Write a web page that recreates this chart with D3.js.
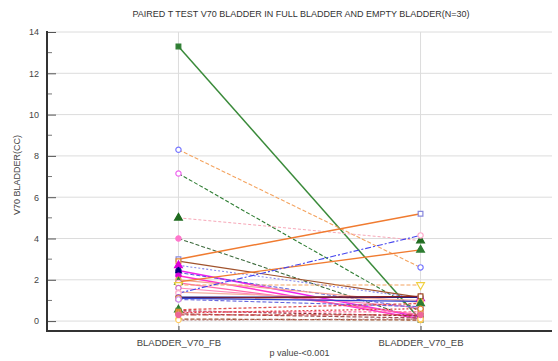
<!DOCTYPE html>
<html><head><meta charset="utf-8">
<script src="https://cdn.jsdelivr.net/npm/d3@7"></script>
<style>body{margin:0;background:#fff}svg{display:block}text{font-family:"Liberation Sans",Arial,sans-serif;fill:#444}</style>
</head><body>
<script>
const title = "PAIRED T TEST V70 BLADDER IN FULL BLADDER AND EMPTY BLADDER(N=30)";
const categories = ["BLADDER_V70_FB", "BLADDER_V70_EB"];
const yTicks = [0, 2, 4, 6, 8, 10, 12, 14];
const fbValues = [13.3, 8.3, 7.15, 5.0, 4.0, 3.0, 2.9, 2.7, 2.45, 2.35, 2.2, 2.0, 1.9, 1.85, 1.75, 1.6, 1.4, 1.35, 1.15, 1.1, 1.1, 1.05, 0.55, 0.5, 0.45, 0.4, 0.35, 0.1, 0.05, 0.3];
const ebValues = [0.05, 2.6, 0.45, 3.9, 0.05, 5.2, 1.15, 1.1, 0.2, 0.6, 0.1, 0.9, 3.45, 0.3, 1.75, 0.65, 1.0, 4.15, 1.15, 1.2, 0.95, 0.7, 0.85, 0.25, 0.45, 0.6, 0.15, 0.05, 0.1, 0.3];
const xLabel = "p value-<0.001";
const yLabel = "V70 BLADDER(CC)";

// styles: [line color, dash, width, marker, marker color, filled]
const styles = [
  ["#3a8a3a","",1.5,"square","#2e7d32",true],
  ["#f4a460","4,2",1.1,"circle","#7777ff",false],
  ["#2e7d32","4,2",1.1,"circle","#ee66ee",false],
  ["#f7a8b8","3,2",1.0,"triangle","#1f6b1f",true],
  ["#3d6b3d","4,2",1.1,"circle","#ff77cc",true],
  ["#f07b30","",1.5,"square","#8888dd",false],
  ["#a0522d","",1.2,"square","#e08a30",false],
  ["#8888ee","2,2",1.1,"triangle","#dd00dd",true],
  ["#ee22ee","",1.5,"circle","#1a1a8c",true],
  ["#5555dd","4,2",1.0,"diamond","#00007a",true],
  ["#ff33cc","",1.5,"circle","#dd00dd",true],
  ["#f4a090","",1.2,"circle","#f0a040",false],
  ["#f07b30","",1.4,"triangle","#2e7d32",true],
  ["#ff66aa","",1.2,"circle","#ffaacc",false],
  ["#f4a460","4,2",1.1,"tridown","#f0d040",false],
  ["#ff88bb","",1.1,"circle","#cc66cc",false],
  ["#f4b0a0","",1.2,"circle","#ffbbcc",false],
  ["#4444ee","6,2,2,2",1.1,"circle","#ffaacc",false],
  ["#22228c","",1.5,"circle","#9955cc",false],
  ["#8b2020","",1.3,"square","#a0522d",false],
  ["#3344cc","",1.3,"circle","#f0a040",false],
  ["#6666dd","4,2",1.1,"circle","#cc88ee",false],
  ["#e05050","3,2",1.3,"triangle","#2e7d32",true],
  ["#8b3030","3,2",1.3,"square","#3a8a3a",false],
  ["#ff6699","3,2",1.2,"square","#e08a30",false],
  ["#dd4444","2,2",1.3,"circle","#e08a30",false],
  ["#a05050","4,2",1.2,"circle","#d09050",false],
  ["#a0522d","4,2",1.3,"circle","#f0d040",false],
  ["#b07070","2,2",1.2,"circle","#ffcc66",false],
  ["#cc4444","6,2,2,2",1.2,"circle","#ee6699",true]
];

const W = 558, H = 361;
const m = {l:47, r:6, t:32, b:30};
const svg = d3.select("body").append("svg").attr("width", W).attr("height", H);

const x = d3.scalePoint().domain(categories).range([m.l, W - m.r]).padding(0.543);
const y = d3.scaleLinear().domain([-0.48, 14]).range([H - m.b, m.t]);

// gridlines
const g = svg.append("g");
g.selectAll(".hg").data(yTicks).join("line")
  .attr("x1", m.l).attr("x2", W - m.r).attr("y1", d => y(d)).attr("y2", d => y(d))
  .attr("stroke", "#dcdcdc").attr("stroke-width", 1);
g.selectAll(".vg").data(categories).join("line")
  .attr("x1", d => x(d)).attr("x2", d => x(d)).attr("y1", m.t).attr("y2", H - m.b)
  .attr("stroke", "#dcdcdc").attr("stroke-width", 1);

// title
svg.append("text").attr("x", 301).attr("y", 17).attr("text-anchor", "middle")
  .attr("font-size", 9).style("fill", "#333").text(title);

// Y axis
const yAxis = d3.axisLeft(y).tickValues(yTicks).tickSize(-9).tickPadding(8).tickFormat(d3.format("d"));
const ya = svg.append("g").attr("transform", `translate(${m.l},0)`).call(yAxis);
ya.select(".domain").remove();
ya.selectAll("line").attr("stroke", "#555");
ya.selectAll("text").attr("font-size", 9).style("fill", "#444").attr("font-family", "Liberation Sans, Arial, sans-serif");
const minor = d3.range(1, 14, 2);
svg.append("g").selectAll("line").data(minor).join("line")
  .attr("x1", m.l).attr("x2", m.l + 5).attr("y1", d => y(d)).attr("y2", d => y(d))
  .attr("stroke", "#777");

// X axis
const xAxis = d3.axisBottom(x).tickSize(-5).tickPadding(8);
const xa = svg.append("g").attr("transform", `translate(0,${H - m.b})`).call(xAxis);
xa.select(".domain").remove();
xa.selectAll("line").attr("stroke", "#555");
xa.selectAll("text").attr("font-size", 9.5).style("fill", "#444").attr("font-family", "Liberation Sans, Arial, sans-serif");

// lines
const pairs = fbValues.map((v, i) => ({fb: v, eb: ebValues[i], s: styles[i]}));
const line = d3.line().x(d => x(d[0])).y(d => y(d[1]));
const lg = svg.append("g");
pairs.forEach(p => {
  lg.append("path").attr("d", line([[categories[0], p.fb], [categories[1], p.eb]]))
    .attr("fill", "none").attr("stroke", p.s[0]).attr("stroke-width", p.s[2])
    .attr("stroke-dasharray", p.s[1] || null);
});
// markers
const symMap = {circle: d3.symbolCircle, square: d3.symbolSquare, triangle: d3.symbolTriangle, diamond: d3.symbolDiamond, tridown: d3.symbolTriangle};
const mg = svg.append("g");
pairs.forEach(p => {
  [[categories[0], p.fb], [categories[1], p.eb]].forEach(pt => {
    const t = p.s[3];
    const size = t === "circle" ? 22 : (t === "square" ? 22 : 26);
    mg.append("path").attr("d", d3.symbol().type(symMap[t]).size(size)())
      .attr("transform", `translate(${x(pt[0])},${y(pt[1])})${t === "tridown" ? " rotate(180)" : ""}`)
      .attr("fill", p.s[5] ? p.s[4] : "#fff").attr("stroke", p.s[4]).attr("stroke-width", 1.2);
  });
});

// axis lines
svg.append("line").attr("x1", m.l).attr("x2", m.l).attr("y1", m.t - 1).attr("y2", H - m.b + 1)
  .attr("stroke", "#333").attr("stroke-width", 2);
svg.append("line").attr("x1", m.l - 1).attr("x2", W - m.r).attr("y1", H - m.b).attr("y2", H - m.b)
  .attr("stroke", "#333").attr("stroke-width", 2);

// axis titles
svg.append("text").attr("x", (m.l + W - m.r) / 2).attr("y", 356).attr("text-anchor", "middle")
  .attr("font-size", 9).text(xLabel);
svg.append("text").attr("transform", `translate(20,175) rotate(-90)`).attr("text-anchor", "middle")
  .attr("font-size", 9).text(yLabel);
</script>
</body></html>
